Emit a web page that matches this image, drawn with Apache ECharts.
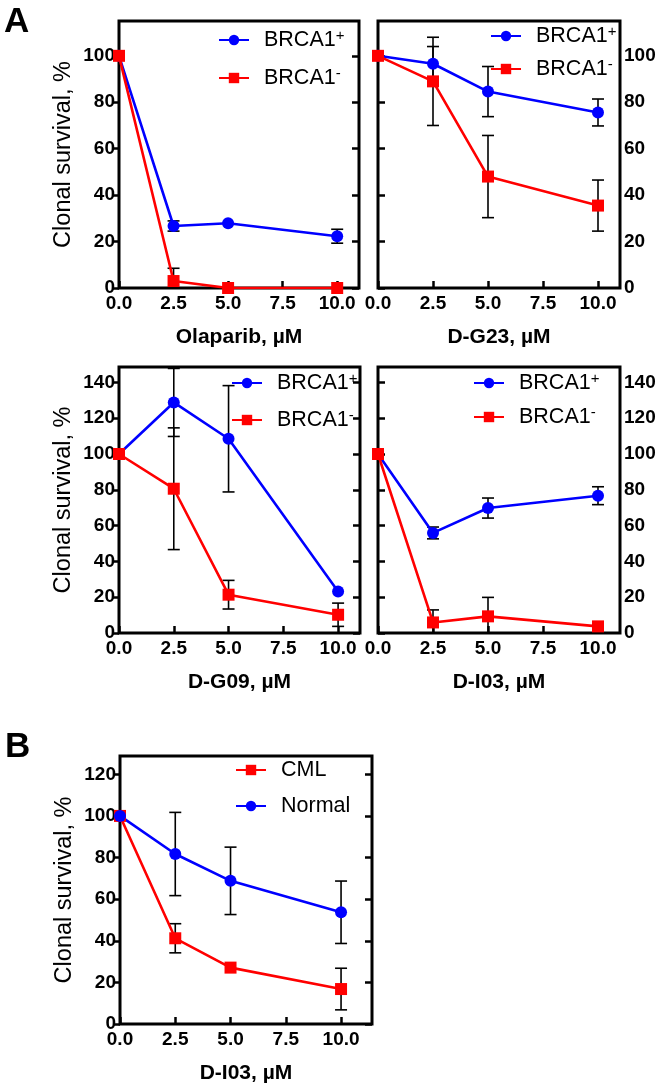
<!DOCTYPE html>
<html>
<head>
<meta charset="utf-8">
<script src="https://cdn.jsdelivr.net/npm/echarts@6/dist/echarts.min.js"></script>
<style>
html,body{margin:0;padding:0;background:#fff;}
#chart{width:661px;height:1091px;}
</style>
</head>
<body>
<div id="chart"></div>
<script>
// ---------- data ----------
const doses = [0, 2.5, 5, 10];
const xTicks = [0, 2.5, 5, 7.5, 10];
const yTicksTop = [0, 20, 40, 60, 80, 100];
const yTicksBottom = [0, 20, 40, 60, 80, 100, 120, 140];
const yTicksB = [0, 20, 40, 60, 80, 100, 120];

const olaPlus = [100, 26.7, 27.9, 22.3];
const olaPlusErr = [0, 2.2, 0, 3.0];
const olaMinus = [100, 3.0, 0, 0];
const olaMinusErr = [0, 5.5, 0, 0];

const g23Plus = [100, 96.6, 84.6, 75.6];
const g23PlusErr = [0, 7.4, 10.8, 5.8];
const g23Minus = [100, 89.0, 48.0, 35.5];
const g23MinusErr = [0, 19.0, 17.7, 11.0];

const g09Plus = [100, 128.8, 108.5, 23.2];
const g09PlusErr = [0, 19.0, 29.7, 0];
const g09Minus = [100, 80.6, 21.4, 10.2];
const g09MinusErr = [0, 34.0, 8.0, 6.5];

const i03Plus = [100, 55.9, 69.8, 76.7];
const i03PlusErr = [0, 3.3, 5.6, 5.0];
const i03Minus = [100, 5.9, 9.3, 3.7];
const i03MinusErr = [0, 7.0, 10.6, 0];

const cml = [100, 41.2, 27.1, 16.8];
const cmlErr = [0, 7.0, 0, 10.0];
const normal = [100, 81.7, 68.8, 53.7];
const normalErr = [0, 20.0, 16.2, 15.0];

const xNames = ['Olaparib, \u00b5M', 'D-G23, \u00b5M', 'D-G09, \u00b5M', 'D-I03, \u00b5M', 'D-I03, \u00b5M'];
const yName = 'Clonal survival, %';

// ---------- styles ----------
const FONT = '"Liberation Sans", Arial, sans-serif';
const BLUE = '#0000ff', RED = '#ff0000';
const PLUS = 'BRCA1+', MINUS = 'BRCA1\u2212';

const panels = [
  {grid:{left:119, top:21, width:240, height:267}, xmax:11.0, ymax:115, yt:yTicksTop, labelSide:'left',
   legend:{left:218, top:28, gap:15}, names:[PLUS, MINUS]},
  {grid:{left:378, top:21, width:242, height:267}, xmax:11.0, ymax:115, yt:yTicksTop, labelSide:'right',
   legend:{left:490, top:24, gap:10}, names:[PLUS, MINUS]},
  {grid:{left:119, top:367, width:241, height:266}, xmax:11.0, ymax:148.6, yt:yTicksBottom, labelSide:'left',
   legend:{left:231, top:371, gap:14}, names:[PLUS, MINUS]},
  {grid:{left:378, top:367, width:242, height:266}, xmax:11.0, ymax:148.6, yt:yTicksBottom, labelSide:'right',
   legend:{left:473, top:371, gap:11}, names:[PLUS, MINUS]},
  {grid:{left:120, top:756, width:252, height:268}, xmax:11.4, ymax:128.8, yt:yTicksB, labelSide:'left',
   legend:{left:235, top:759, gap:14}, names:['CML', 'Normal']}
];

const seriesData = [
  [{name:PLUS, v:olaPlus, e:olaPlusErr, c:BLUE, s:'circle'}, {name:MINUS, v:olaMinus, e:olaMinusErr, c:RED, s:'rect'}],
  [{name:PLUS, v:g23Plus, e:g23PlusErr, c:BLUE, s:'circle'}, {name:MINUS, v:g23Minus, e:g23MinusErr, c:RED, s:'rect'}],
  [{name:PLUS, v:g09Plus, e:g09PlusErr, c:BLUE, s:'circle'}, {name:MINUS, v:g09Minus, e:g09MinusErr, c:RED, s:'rect'}],
  [{name:PLUS, v:i03Plus, e:i03PlusErr, c:BLUE, s:'circle'}, {name:MINUS, v:i03Minus, e:i03MinusErr, c:RED, s:'rect'}],
  [{name:'CML', v:cml, e:cmlErr, c:RED, s:'rect'}, {name:'Normal', v:normal, e:normalErr, c:BLUE, s:'circle'}]
];

function errRender(params, api) {
  const x = api.value(0), lo = api.value(1), hi = api.value(2);
  const p1 = api.coord([x, hi]);
  const p2 = api.coord([x, lo]);
  const hw = 6;
  const style = {stroke:'#000', lineWidth:1.6};
  return {type:'group', children:[
    {type:'line', shape:{x1:p1[0], y1:p1[1], x2:p2[0], y2:p2[1]}, style:style},
    {type:'line', shape:{x1:p1[0]-hw, y1:p1[1], x2:p1[0]+hw, y2:p1[1]}, style:style},
    {type:'line', shape:{x1:p2[0]-hw, y1:p2[1], x2:p2[0]+hw, y2:p2[1]}, style:style}
  ]};
}

const grids = [], xAxes = [], yAxes = [], series = [], legends = [];
const tickStyle = {color:'#000', width:2.5};

function legendFmt(name) {
  if (name === PLUS) return '{t|BRCA1}{s|+}';
  if (name === MINUS) return '{t|BRCA1}{s|-}';
  return '{t|' + name + '}';
}

panels.forEach((p, i) => {
  grids.push(Object.assign({show:true, borderColor:'#000', borderWidth:3, backgroundColor:'transparent', containLabel:false}, p.grid));
  xAxes.push({
    type:'value', gridIndex:i, min:0, max:p.xmax, position:'bottom',
    name:xNames[i], nameLocation:'middle', nameGap:39,
    nameTextStyle:{color:'#000', fontSize:21, fontWeight:'bold', fontFamily:FONT},
    axisLine:{show:false}, splitLine:{show:false},
    axisTick:{show:true, inside:true, length:7, lineStyle:tickStyle, customValues:xTicks},
    axisLabel:{show:true, color:'#000', fontSize:19, fontWeight:'bold', fontFamily:FONT, margin:6,
      customValues:xTicks, formatter:v => v.toFixed(1)}
  });
  const labeled = {
    type:'value', gridIndex:i, min:0, max:p.ymax, position:p.labelSide,
    axisLine:{show:false}, splitLine:{show:false},
    axisTick:{show:true, inside:false, length:6, lineStyle:tickStyle, customValues:p.yt},
    axisLabel:{show:true, color:'#000', fontSize:19, fontWeight:'bold', fontFamily:FONT, margin:4, customValues:p.yt}
  };
  if (p.labelSide === 'left') {
    labeled.name = yName; labeled.nameLocation = 'middle'; labeled.nameGap = 43;
    labeled.nameTextStyle = {color:'#000', fontSize:23.5, fontFamily:FONT};
  }
  const yIdx = yAxes.length;
  yAxes.push(labeled);
  yAxes.push({
    type:'value', gridIndex:i, min:0, max:p.ymax, position:p.labelSide === 'left' ? 'right' : 'left',
    axisLine:{show:false}, splitLine:{show:false},
    axisTick:{show:true, inside:true, length:7, lineStyle:tickStyle, customValues:p.yt},
    axisLabel:{show:false}
  });
  seriesData[i].forEach((sd, k) => {
    series.push({
      type:'custom', name:'err' + i + '_' + k, xAxisIndex:i, yAxisIndex:yIdx, clip:true, z:2,
      renderItem:errRender, encode:{x:0, y:[1,2]},
      data:doses.map((d, j) => [d, sd.v[j] - sd.e[j], sd.v[j] + sd.e[j], sd.e[j]]).filter(r => r[3] > 0),
      silent:true
    });
  });
  seriesData[i].forEach(sd => {
    series.push({
      type:'line', name:sd.name, xAxisIndex:i, yAxisIndex:yIdx, z:3,
      data:doses.map((d, j) => [d, sd.v[j]]),
      symbol:sd.s, symbolSize:12, showSymbol:true,
      itemStyle:{color:sd.c}, lineStyle:{color:sd.c, width:2.6},
      animation:false
    });
  });
  legends.push({
    orient:'vertical', left:p.legend.left, top:p.legend.top, padding:0,
    itemGap:p.legend.gap, itemWidth:30, itemHeight:13,
    data:p.names, selectedMode:false,
    formatter:legendFmt,
    textStyle:{color:'#000', fontFamily:FONT, rich:{
      t:{fontSize:21.5, fontFamily:FONT, color:'#000', lineHeight:24, padding:[0,0,0,10]},
      s:{fontSize:15, fontFamily:FONT, color:'#000', lineHeight:12, verticalAlign:'top'}
    }}
  });
});

const chart = echarts.init(document.getElementById('chart'), null, {renderer:'canvas'});
chart.setOption({
  animation:false,
  backgroundColor:'#fff',
  grid:grids, xAxis:xAxes, yAxis:yAxes, series:series, legend:legends,
  graphic:[
    {type:'text', left:4, top:5, style:{text:'A', font:'bold 35px "Liberation Sans", Arial', fill:'#000'}},
    {type:'text', left:5, top:730, style:{text:'B', font:'bold 35px "Liberation Sans", Arial', fill:'#000'}}
  ]
});
</script>
</body>
</html>
